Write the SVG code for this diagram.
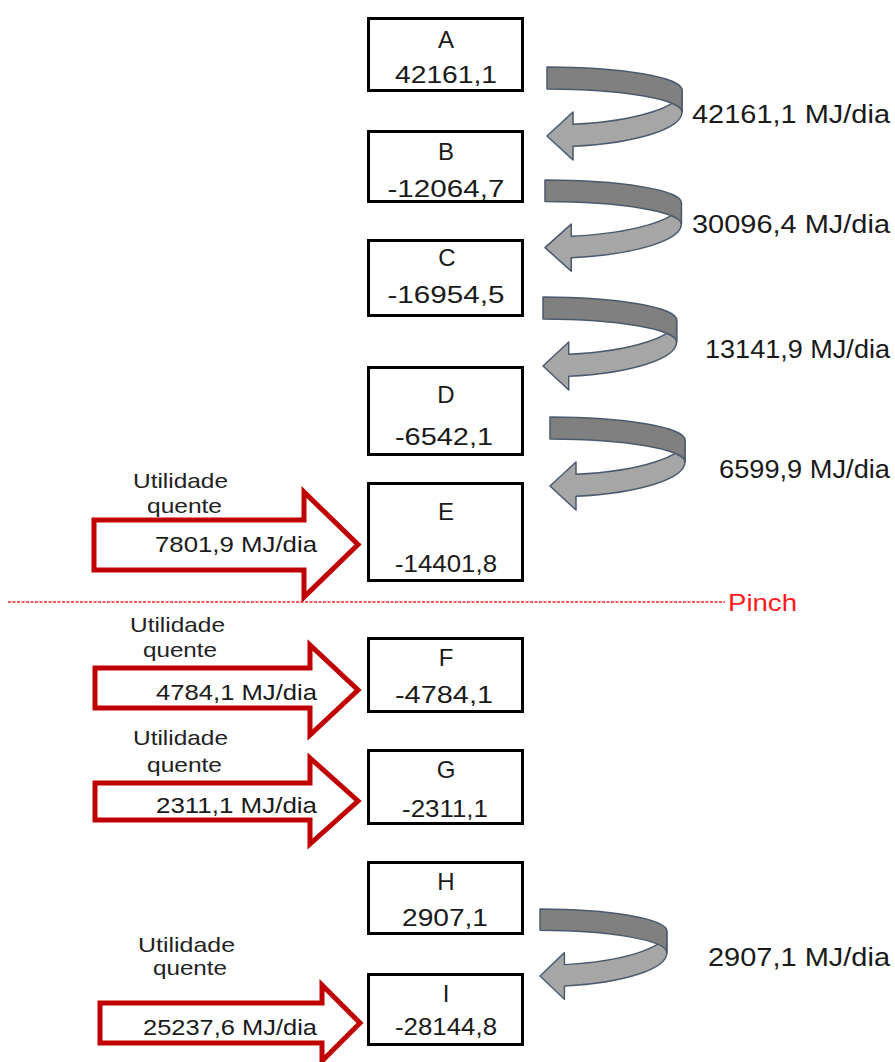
<svg xmlns="http://www.w3.org/2000/svg" xmlns:xlink="http://www.w3.org/1999/xlink" width="895" height="1062" viewBox="0 0 895 1062">
<style>
text{font-family:"Liberation Sans",Arial,sans-serif;fill:#1a1a1a}
.box{fill:#fff;stroke:#000;stroke-width:3}
.bt{font-size:24px;text-anchor:middle}
.lbl{font-size:25px}
.hu{fill:#fff;stroke:#c00000;stroke-width:5;stroke-linejoin:miter}
.ht{font-size:22px}
.ut{font-size:21px;fill:#222}
.dark{fill:#808080;stroke:#4a5a6e;stroke-width:1.5;stroke-linejoin:round}
.light{fill:#a6a6a6;stroke:#4a5a6e;stroke-width:1.5;stroke-linejoin:round}
.pinch{stroke:#ff2020;stroke-width:1.5;stroke-dasharray:3 1.5;fill:none}
</style>
<defs>
<g id="uturn">
<path class="light" d="M135,23 A135,35 0 0 1 26,57.35 L26,45 L0,69 L26,93 L26,79.35 A135,35 0 0 0 135,45 Z"/>
<path class="dark" d="M0,0 A135,23 0 0 1 135,23 L135,45 A135,23 0 0 0 0,22 Z"/>
</g>
</defs>

<g id="connectors">
<use xlink:href="#uturn" href="#uturn" transform="translate(547,67)"/>
<use xlink:href="#uturn" href="#uturn" transform="translate(545,180) scale(1.01,0.98)"/>
<use xlink:href="#uturn" href="#uturn" transform="translate(543,297) scale(0.99,1)"/>
<use xlink:href="#uturn" href="#uturn" transform="translate(550,417)"/>
<use xlink:href="#uturn" href="#uturn" transform="translate(540,909) scale(0.94,0.97)"/>
<text class="lbl" x="692" y="123" textLength="198" lengthAdjust="spacingAndGlyphs">42161,1 MJ/dia</text>
<text class="lbl" x="692" y="233" textLength="198" lengthAdjust="spacingAndGlyphs">30096,4 MJ/dia</text>
<text class="lbl" x="705" y="358" textLength="185" lengthAdjust="spacingAndGlyphs">13141,9 MJ/dia</text>
<text class="lbl" x="719" y="478" textLength="171" lengthAdjust="spacingAndGlyphs">6599,9 MJ/dia</text>
<text class="lbl" x="708" y="966" textLength="182" lengthAdjust="spacingAndGlyphs">2907,1 MJ/dia</text>

<path class="hu" d="M94,520 H304 V492 L358,544.5 L304,597 V570 H94 Z"/>
<path class="hu" d="M95,668 H310 V645 L358,690 L310,735 V708 H95 Z"/>
<path class="hu" d="M95,783 H310 V758 L358,801 L310,844 V820 H95 Z"/>
<path class="hu" d="M100,1003 H322 V985 L360,1023 L322,1061 V1043 H100 Z"/>
<text class="ht" x="155" y="552" textLength="162" lengthAdjust="spacingAndGlyphs">7801,9 MJ/dia</text>
<text class="ht" x="156" y="700" textLength="161" lengthAdjust="spacingAndGlyphs">4784,1 MJ/dia</text>
<text class="ht" x="156" y="813" textLength="161" lengthAdjust="spacingAndGlyphs">2311,1 MJ/dia</text>
<text class="ht" x="143" y="1035" textLength="174" lengthAdjust="spacingAndGlyphs">25237,6 MJ/dia</text>
<text class="ut" x="133" y="488" textLength="95" lengthAdjust="spacingAndGlyphs">Utilidade</text>
<text class="ut" x="147" y="513" textLength="75" lengthAdjust="spacingAndGlyphs">quente</text>
<text class="ut" x="130" y="632" textLength="95" lengthAdjust="spacingAndGlyphs">Utilidade</text>
<text class="ut" x="143" y="657" textLength="74" lengthAdjust="spacingAndGlyphs">quente</text>
<text class="ut" x="133" y="745" textLength="95" lengthAdjust="spacingAndGlyphs">Utilidade</text>
<text class="ut" x="147" y="772" textLength="75" lengthAdjust="spacingAndGlyphs">quente</text>
<text class="ut" x="138" y="952" textLength="97" lengthAdjust="spacingAndGlyphs">Utilidade</text>
<text class="ut" x="153" y="975" textLength="74" lengthAdjust="spacingAndGlyphs">quente</text>

<line class="pinch" x1="8" y1="602" x2="725" y2="602"/>
<text x="728" y="611" font-size="24" style="fill:#ff1a1a" textLength="69" lengthAdjust="spacingAndGlyphs">Pinch</text>
</g>

<g id="A"><rect class="box" x="368.5" y="18.5" width="154" height="72"/><text class="bt" x="446" y="48">A</text><text class="bt" x="446" y="83" textLength="102" lengthAdjust="spacingAndGlyphs">42161,1</text></g>
<g id="B"><rect class="box" x="368.5" y="131.5" width="154" height="70"/><text class="bt" x="446" y="160">B</text><text class="bt" x="446" y="197" textLength="117" lengthAdjust="spacingAndGlyphs">-12064,7</text></g>
<g id="C"><rect class="box" x="368.5" y="240.5" width="154" height="75"/><text class="bt" x="447" y="266">C</text><text class="bt" x="446" y="303" textLength="117" lengthAdjust="spacingAndGlyphs">-16954,5</text></g>
<g id="D"><rect class="box" x="368.5" y="367.5" width="154" height="87"/><text class="bt" x="446" y="403">D</text><text class="bt" x="444" y="445" textLength="98" lengthAdjust="spacingAndGlyphs">-6542,1</text></g>
<g id="E"><rect class="box" x="368.5" y="483.5" width="154" height="97"/><text class="bt" x="446" y="520">E</text><text class="bt" x="446" y="572" textLength="102" lengthAdjust="spacingAndGlyphs">-14401,8</text></g>
<g id="F"><rect class="box" x="368.5" y="638.5" width="154" height="73"/><text class="bt" x="446" y="666">F</text><text class="bt" x="444" y="703" textLength="98" lengthAdjust="spacingAndGlyphs">-4784,1</text></g>
<g id="G"><rect class="box" x="368.5" y="750.5" width="154" height="73"/><text class="bt" x="446" y="778">G</text><text class="bt" x="445" y="817" textLength="86" lengthAdjust="spacingAndGlyphs">-2311,1</text></g>
<g id="H"><rect class="box" x="368.5" y="862.5" width="154" height="71"/><text class="bt" x="446" y="890">H</text><text class="bt" x="445" y="926" textLength="86" lengthAdjust="spacingAndGlyphs">2907,1</text></g>
<g id="I"><rect class="box" x="368.5" y="974.5" width="154" height="70"/><text class="bt" x="446" y="1002">I</text><text class="bt" x="446" y="1035" textLength="102" lengthAdjust="spacingAndGlyphs">-28144,8</text></g>
</svg>
